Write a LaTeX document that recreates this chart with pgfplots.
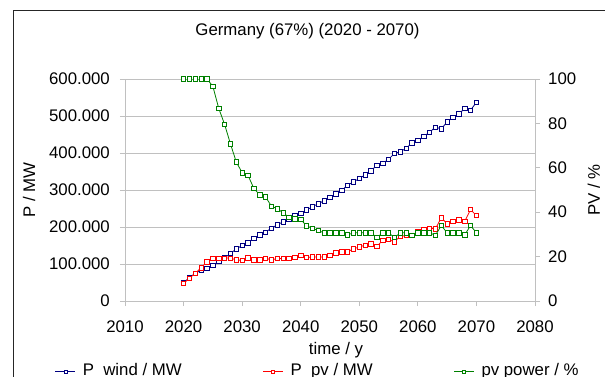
\documentclass[border=0pt]{standalone}
\usepackage{pgfplots}
\usepackage{pgfplotstable}
\pgfplotsset{compat=1.18}
\usepackage{fontspec}
\setmainfont{Liberation Sans}
\definecolor{cwind}{RGB}{0,0,128}
\definecolor{cpv}{RGB}{255,0,0}
\definecolor{cpvp}{RGB}{0,128,0}
\definecolor{axgray}{RGB}{192,192,192}
\newcommand{\ff}{\fontsize{16.8}{20}\selectfont}

\pgfplotstableread{
year wind pv
2020 50000 47000
2021 63000 62000
2022 75000 75000
2023 83000 90000
2024 89000 106000
2025 96000 116000
2026 107000 116000
2027 117000 116000
2028 128000 116000
2029 141000 111000
2030 150000 110000
2031 157000 117000
2032 170000 111000
2033 179000 111000
2034 186000 116000
2035 197000 111000
2036 206000 115000
2037 214000 115000
2038 222000 115000
2039 231000 118000
2040 237000 123000
2041 246000 118000
2042 255000 119000
2043 263000 119000
2044 271000 119000
2045 280000 124000
2046 290000 130000
2047 299000 133000
2048 313000 133000
2049 322000 141000
2050 331000 146000
2051 341000 151000
2052 352000 155000
2053 367000 148000
2054 372000 164000
2055 383000 166000
2056 399000 160000
2057 403000 175000
2058 413000 177000
2059 427000 178000
2060 434000 187000
2061 445000 193000
2062 456000 197000
2063 470000 195000
2064 465000 225000
2065 484000 209000
2066 497000 215000
2067 506000 219000
2068 520000 215000
2069 516000 247000
2070 537000 231000
}\powertable

\pgfplotstableread{
year pvp
2020 100
2021 100
2022 100
2023 100
2024 100
2025 96.7
2026 86.8
2027 79.6
2028 70.8
2029 62.6
2030 57.8
2031 56.6
2032 50.7
2033 47.8
2034 46.9
2035 42.7
2036 41.6
2037 39.7
2038 37.7
2039 37.0
2040 36.8
2041 33.8
2042 32.8
2043 31.7
2044 30.7
2045 30.7
2046 30.7
2047 30.7
2048 29.8
2049 30.7
2050 30.7
2051 30.7
2052 30.7
2053 28.6
2054 30.7
2055 30.7
2056 28.6
2057 30.7
2058 30.7
2059 29.6
2060 30.7
2061 30.7
2062 30.7
2063 29.6
2064 34.0
2065 30.7
2066 30.7
2067 30.7
2068 29.8
2069 34.0
2070 30.7
}\pvptable

\pgfplotsset{
  common/.style={
    at={(125pt,75pt)}, anchor=south west,
    scale only axis, width=410pt, height=222pt,
    xmin=2010, xmax=2080,
    tick align=outside, major tick length=5pt,
    every tick/.style={axgray, line width=0.8pt},
    axis line style={axgray, line width=0.8pt},
    tick label style={font=\ff},
    label style={font=\ff},
    scaled y ticks=false, scaled x ticks=false,
  },
  ms/.style={line width=0.8pt, mark=square*, mark size=2.2pt,
    mark options={fill=white, solid, line width=0.7pt}},
}

\begin{document}
\ff
\begin{tikzpicture}[x=1pt,y=1pt]
\path[use as bounding box] (0,0) rectangle (605,376);
\draw[line width=1pt, black!85] (13.5,365.5) rectangle (700,-60);
\begin{axis}[common,
  axis x line*=bottom, axis y line*=left,
  ymin=0, ymax=600000,
  ytick={0,100000,200000,300000,400000,500000,600000},
  yticklabels={0,100.000,200.000,300.000,400.000,500.000,600.000},
  xtick={2010,2020,2030,2040,2050,2060,2070,2080},
  xticklabels={2010,2020,2030,2040,2050,2060,2070,2080},
  ymajorgrids, major grid style={axgray, line width=0.8pt},
  yticklabel style={anchor=east, inner sep=0pt, xshift=-10pt},
  xticklabel style={anchor=north, inner sep=0pt, yshift=-15pt},
  title={Germany (67\%) (2020 - 2070)},
  title style={font=\ff, at={(axis description cs:0.4451,1.1667)}, anchor=base, inner sep=0pt},
  xlabel={time / y},
  xlabel style={at={(axis description cs:0.5146,-0.2432)}, anchor=base, inner sep=0pt},
  ylabel={P / MW},
  ylabel style={at={(axis description cs:-0.2195,0.5)}, anchor=base, inner sep=0pt, rotate=0},
  legend columns=3,
  legend style={font=\ff, draw=none, fill=none, inner sep=0pt, outer sep=0pt,
    at={(axis description cs:-0.1707,-0.3176)}, anchor=west,
    nodes={inner sep=0pt, text height=12pt, text depth=3.5pt},
    /tikz/every even column/.append style={column sep=81pt},
    /tikz/every odd column/.append style={column sep=7pt}},
  legend image code/.code={\draw[mark repeat=2, mark phase=2, mark size=1.5pt]
    plot coordinates {(0pt,0pt)(10pt,0pt)(20pt,0pt)};},
]
\addplot[cwind, ms] table[x=year, y=wind] {\powertable};
\addlegendentry{P\_wind / MW}
\addplot[cpv, ms] table[x=year, y=pv] {\powertable};
\addlegendentry{P\_pv / MW}
\addlegendimage{cpvp, line width=0.8pt, mark=square*, mark options={fill=white, solid, line width=0.7pt}}
\addlegendentry{pv power / \%}
\end{axis}
\begin{axis}[common,
  axis x line=none, axis y line*=right,
  ymin=0, ymax=100,
  ytick={0,20,40,60,80,100},
  yticklabels={0,20,40,60,80,100},
  yticklabel style={anchor=west, inner sep=0pt, xshift=8pt},
  ylabel={PV / \%},
  ylabel style={at={(axis description cs:1.1585,0.5)}, anchor=base, inner sep=0pt, rotate=0},
]
\addplot[cpvp, ms] table[x=year, y=pvp] {\pvptable};
\end{axis}
\end{tikzpicture}
\end{document}
